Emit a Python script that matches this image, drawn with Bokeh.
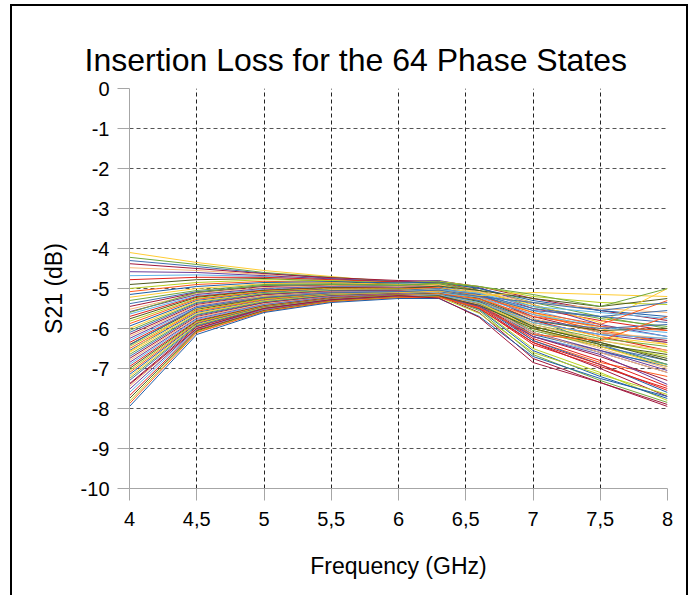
from bokeh.plotting import figure
from bokeh.models import Range1d, FixedTicker, Title, ColumnDataSource
from bokeh.embed import file_html
from bokeh.resources import INLINE

title_text = "Insertion Loss for the 64 Phase States"
x_label = "Frequency (GHz)"
y_label = "S21 (dB)"

freq = [4.0, 4.5, 5.0, 5.5, 6.0, 6.3, 6.6, 7.0, 7.5, 8.0]

x_ticks = [4.0, 4.5, 5.0, 5.5, 6.0, 6.5, 7.0, 7.5, 8.0]
x_tick_labels = ["4", "4,5", "5", "5,5", "6", "6,5", "7", "7,5", "8"]
y_ticks = [0, -1, -2, -3, -4, -5, -6, -7, -8, -9, -10]
y_tick_labels = ["0", "-1", "-2", "-3", "-4", "-5", "-6", "-7", "-8", "-9", "-10"]

state_01 = [-4.10, -4.35, -4.55, -4.70, -4.85, -4.95, -5.15, -5.60, -6.10, -6.60]
state_02 = [-4.22, -4.40, -4.60, -4.72, -4.82, -4.85, -5.00, -5.35, -5.70, -6.00]
state_03 = [-4.30, -4.45, -4.62, -4.75, -4.85, -4.88, -5.10, -5.75, -6.40, -6.90]
state_04 = [-4.38, -4.50, -4.63, -4.73, -4.80, -4.82, -4.95, -5.25, -5.55, -5.80]
state_05 = [-4.48, -4.55, -4.65, -4.78, -4.86, -4.90, -5.20, -6.00, -6.50, -7.00]
state_06 = [-4.58, -4.60, -4.68, -4.76, -4.83, -4.80, -4.98, -5.40, -5.90, -6.20]
state_07 = [-4.68, -4.66, -4.70, -4.80, -4.88, -4.92, -5.30, -6.20, -6.60, -6.90]
state_08 = [-4.78, -4.72, -4.72, -4.78, -4.84, -4.85, -5.05, -5.50, -5.80, -6.05]
state_09 = [-4.90, -4.78, -4.75, -4.82, -4.90, -4.95, -5.25, -5.95, -6.35, -6.75]
state_10 = [-5.00, -4.85, -4.78, -4.80, -4.86, -4.82, -4.95, -5.20, -5.35, -5.40]
state_11 = [-5.08, -4.90, -4.82, -4.85, -4.92, -4.98, -5.35, -6.30, -6.85, -7.20]
state_12 = [-5.15, -4.95, -4.85, -4.83, -4.86, -4.84, -5.00, -5.30, -5.55, -5.70]
state_13 = [-5.22, -5.00, -4.88, -4.86, -4.90, -4.90, -5.10, -5.60, -6.00, -6.40]
state_14 = [-5.30, -5.05, -4.90, -4.88, -4.92, -4.88, -5.05, -5.45, -5.75, -5.95]
state_15 = [-5.38, -5.08, -4.93, -4.90, -4.94, -4.96, -5.25, -6.00, -6.45, -6.80]
state_16 = [-5.45, -5.10, -4.95, -4.92, -4.96, -4.93, -5.15, -5.70, -6.10, -6.30]
state_17 = [-5.52, -5.13, -4.98, -4.93, -4.95, -4.92, -5.08, -5.35, -5.50, -5.60]
state_18 = [-5.58, -5.15, -5.00, -4.95, -4.97, -4.98, -5.30, -6.10, -6.60, -7.10]
state_19 = [-5.64, -5.18, -5.02, -4.96, -4.98, -4.95, -5.12, -5.55, -5.95, -6.20]
state_20 = [-5.70, -5.20, -5.04, -4.97, -4.99, -4.97, -5.20, -5.80, -6.20, -6.55]
state_21 = [-5.76, -5.22, -5.05, -4.98, -5.00, -4.94, -5.05, -5.25, -5.45, -5.25]
state_22 = [-5.82, -5.25, -5.07, -5.00, -5.01, -5.00, -5.28, -5.95, -6.30, -6.60]
state_23 = [-5.88, -5.27, -5.08, -5.01, -5.02, -4.98, -5.18, -5.65, -6.05, -6.35]
state_24 = [-5.94, -5.30, -5.10, -5.02, -5.03, -5.02, -5.35, -6.15, -6.55, -6.95]
state_25 = [-6.00, -5.32, -5.12, -5.03, -5.04, -4.99, -5.10, -5.40, -5.85, -5.00]
state_26 = [-6.05, -5.35, -5.13, -5.05, -5.05, -5.04, -5.30, -5.90, -6.25, -6.45]
state_27 = [-6.10, -5.37, -5.15, -5.06, -5.05, -5.00, -5.15, -5.50, -5.70, -5.55]
state_28 = [-6.15, -5.40, -5.16, -5.07, -5.06, -5.05, -5.38, -6.20, -6.70, -7.30]
state_29 = [-6.20, -5.42, -5.18, -5.08, -5.07, -5.02, -5.22, -5.75, -6.10, -6.25]
state_30 = [-6.25, -5.45, -5.20, -5.09, -5.08, -5.07, -5.32, -5.85, -6.15, -6.35]
state_31 = [-6.30, -5.47, -5.21, -5.10, -5.08, -5.03, -5.12, -5.45, -5.60, -5.75]
state_32 = [-6.35, -5.50, -5.23, -5.11, -5.09, -5.08, -5.40, -6.25, -6.80, -7.45]
state_33 = [-6.40, -5.52, -5.25, -5.12, -5.10, -5.05, -5.25, -5.80, -6.05, -6.00]
state_34 = [-6.45, -5.55, -5.26, -5.13, -5.10, -5.09, -5.35, -6.00, -6.40, -6.70]
state_35 = [-6.50, -5.57, -5.28, -5.14, -5.11, -5.06, -5.20, -5.60, -5.90, -5.30]
state_36 = [-6.55, -5.60, -5.30, -5.15, -5.11, -5.10, -5.42, -6.30, -6.90, -7.60]
state_37 = [-6.60, -5.62, -5.31, -5.16, -5.12, -5.08, -5.28, -5.85, -6.20, -6.40]
state_38 = [-6.65, -5.65, -5.33, -5.17, -5.12, -5.11, -5.38, -6.05, -6.45, -6.90]
state_39 = [-6.70, -5.67, -5.35, -5.18, -5.13, -5.09, -5.18, -5.55, -5.70, -5.85]
state_40 = [-6.75, -5.70, -5.36, -5.19, -5.13, -5.12, -5.45, -6.35, -7.00, -7.70]
state_41 = [-6.80, -5.72, -5.38, -5.20, -5.14, -5.10, -5.30, -5.90, -6.30, -6.55]
state_42 = [-6.85, -5.75, -5.40, -5.21, -5.14, -5.13, -5.40, -6.10, -6.55, -7.05]
state_43 = [-6.90, -5.77, -5.41, -5.22, -5.15, -5.11, -5.22, -5.65, -5.95, -6.10]
state_44 = [-6.95, -5.80, -5.43, -5.23, -5.15, -5.14, -5.48, -6.40, -6.95, -7.50]
state_45 = [-7.00, -5.82, -5.44, -5.24, -5.16, -5.12, -5.33, -5.95, -6.35, -6.80]
state_46 = [-7.05, -5.84, -5.45, -5.25, -5.16, -5.15, -5.50, -6.50, -7.10, -7.80]
state_47 = [-7.10, -5.86, -5.46, -5.25, -5.17, -5.13, -5.26, -5.70, -5.95, -6.05]
state_48 = [-7.15, -5.88, -5.47, -5.26, -5.17, -5.16, -5.52, -6.55, -7.20, -7.75]
state_49 = [-7.20, -5.90, -5.48, -5.27, -5.18, -5.14, -5.36, -6.00, -6.45, -6.95]
state_50 = [-7.25, -5.92, -5.49, -5.28, -5.18, -5.17, -5.55, -6.65, -7.30, -7.85]
state_51 = [-7.30, -5.94, -5.50, -5.28, -5.19, -5.15, -5.30, -5.80, -6.00, -5.90]
state_52 = [-7.38, -5.96, -5.51, -5.29, -5.19, -5.18, -5.60, -6.75, -7.35, -7.90]
state_53 = [-7.45, -5.98, -5.52, -5.30, -5.20, -5.16, -5.40, -6.10, -6.60, -7.10]
state_54 = [-7.52, -6.00, -5.53, -5.30, -5.20, -5.19, -5.45, -6.20, -6.65, -7.40]
state_55 = [-7.60, -6.02, -5.54, -5.31, -5.21, -5.17, -5.35, -5.85, -6.15, -6.25]
state_56 = [-7.68, -6.04, -5.55, -5.31, -5.21, -5.20, -5.50, -6.35, -6.90, -7.55]
state_57 = [-7.75, -6.06, -5.56, -5.32, -5.22, -5.18, -5.42, -6.00, -6.40, -6.65]
state_58 = [-7.82, -6.08, -5.57, -5.32, -5.22, -5.21, -5.62, -6.60, -7.15, -7.65]
state_59 = [-7.88, -6.10, -5.58, -5.33, -5.23, -5.22, -5.48, -6.15, -6.30, -5.70]
state_60 = [-7.95, -6.15, -5.60, -5.35, -5.25, -5.25, -5.70, -6.70, -7.25, -7.70]
state_61 = [-6.58, -5.50, -5.20, -5.12, -5.10, -5.06, -5.18, -5.10, -5.15, -5.20]
state_62 = [-5.60, -5.10, -4.92, -4.90, -4.92, -4.86, -4.95, -5.15, -5.45, -5.00]
state_63 = [-6.42, -5.48, -5.22, -5.11, -5.08, -5.04, -5.20, -5.35, -5.55, -5.35]
state_64 = [-7.40, -6.00, -5.50, -5.28, -5.18, -5.24, -5.72, -6.85, -7.35, -7.95]

states = [
    state_01, state_02, state_03, state_04, state_05, state_06, state_07, state_08,
    state_09, state_10, state_11, state_12, state_13, state_14, state_15, state_16,
    state_17, state_18, state_19, state_20, state_21, state_22, state_23, state_24,
    state_25, state_26, state_27, state_28, state_29, state_30, state_31, state_32,
    state_33, state_34, state_35, state_36, state_37, state_38, state_39, state_40,
    state_41, state_42, state_43, state_44, state_45, state_46, state_47, state_48,
    state_49, state_50, state_51, state_52, state_53, state_54, state_55, state_56,
    state_57, state_58, state_59, state_60, state_61, state_62, state_63, state_64,
]

palette = ["#FFCC33", "#6FA83C", "#3F6FB0", "#A0183C", "#F7B97A", "#6A3D9A",
           "#5FB4E8", "#E0201C", "#4F5A1E", "#B8D020", "#FF5A1E", "#1F5FA8"]

FONT = "Liberation Sans"

p = figure(width=678, height=600, output_backend="svg", toolbar_location=None,
           x_range=Range1d(4, 8), y_range=Range1d(-10, 0),
           min_border_left=117, min_border_right=23, min_border_top=82,
           min_border_bottom=118, margin=(4, 0, 0, 10),
           styles={"border": "2px solid black"})
p.background_fill_color = "white"
p.border_fill_color = "white"
p.outline_line_color = None

p.title = None
title = Title(text=title_text, align="left", offset=-45, standoff=21,
              text_font=FONT, text_font_size="32px", text_font_style="normal",
              text_color="black")
p.add_layout(title, "above")

src = ColumnDataSource(dict(
    xs=[freq for _ in states],
    ys=states,
    color=[palette[i % len(palette)] for i in range(len(states))],
))
p.multi_line(xs="xs", ys="ys", line_color="color", line_width=1, source=src)

xa = p.xaxis[0]
xa.ticker = FixedTicker(ticks=x_ticks)
xa.major_label_overrides = {t: l for t, l in zip(x_ticks, x_tick_labels)}
xa.axis_label = x_label
ya = p.yaxis[0]
ya.ticker = FixedTicker(ticks=y_ticks)
ya.major_label_overrides = {t: l for t, l in zip(y_ticks, y_tick_labels)}
ya.axis_label = y_label

for ax in (xa, ya):
    ax.axis_line_color = "#A6A6A6"
    ax.axis_line_width = 1
    ax.major_tick_line_color = "#A6A6A6"
    ax.major_tick_out = 12
    ax.major_tick_in = 0
    ax.minor_tick_line_color = None
    ax.major_label_text_font = FONT
    ax.major_label_text_font_size = "20px"
    ax.major_label_text_color = "black"
    ax.axis_label_text_font = FONT
    ax.axis_label_text_font_size = "23px"
    ax.axis_label_text_font_style = "normal"
    ax.axis_label_text_color = "black"

xa.major_label_standoff = 11
xa.axis_label_standoff = 24
ya.major_label_standoff = 8
ya.axis_label_standoff = 11

p.xgrid.ticker = FixedTicker(ticks=x_ticks)
p.ygrid.ticker = FixedTicker(ticks=y_ticks)
p.xgrid.grid_line_color = "#222222"
p.xgrid.grid_line_dash = "4 3"
p.xgrid.grid_line_width = 1
p.ygrid.grid_line_color = "#555555"
p.ygrid.grid_line_dash = "4 3"
p.ygrid.grid_line_width = 1.2

open("out.html", "w").write(file_html(p, INLINE))
